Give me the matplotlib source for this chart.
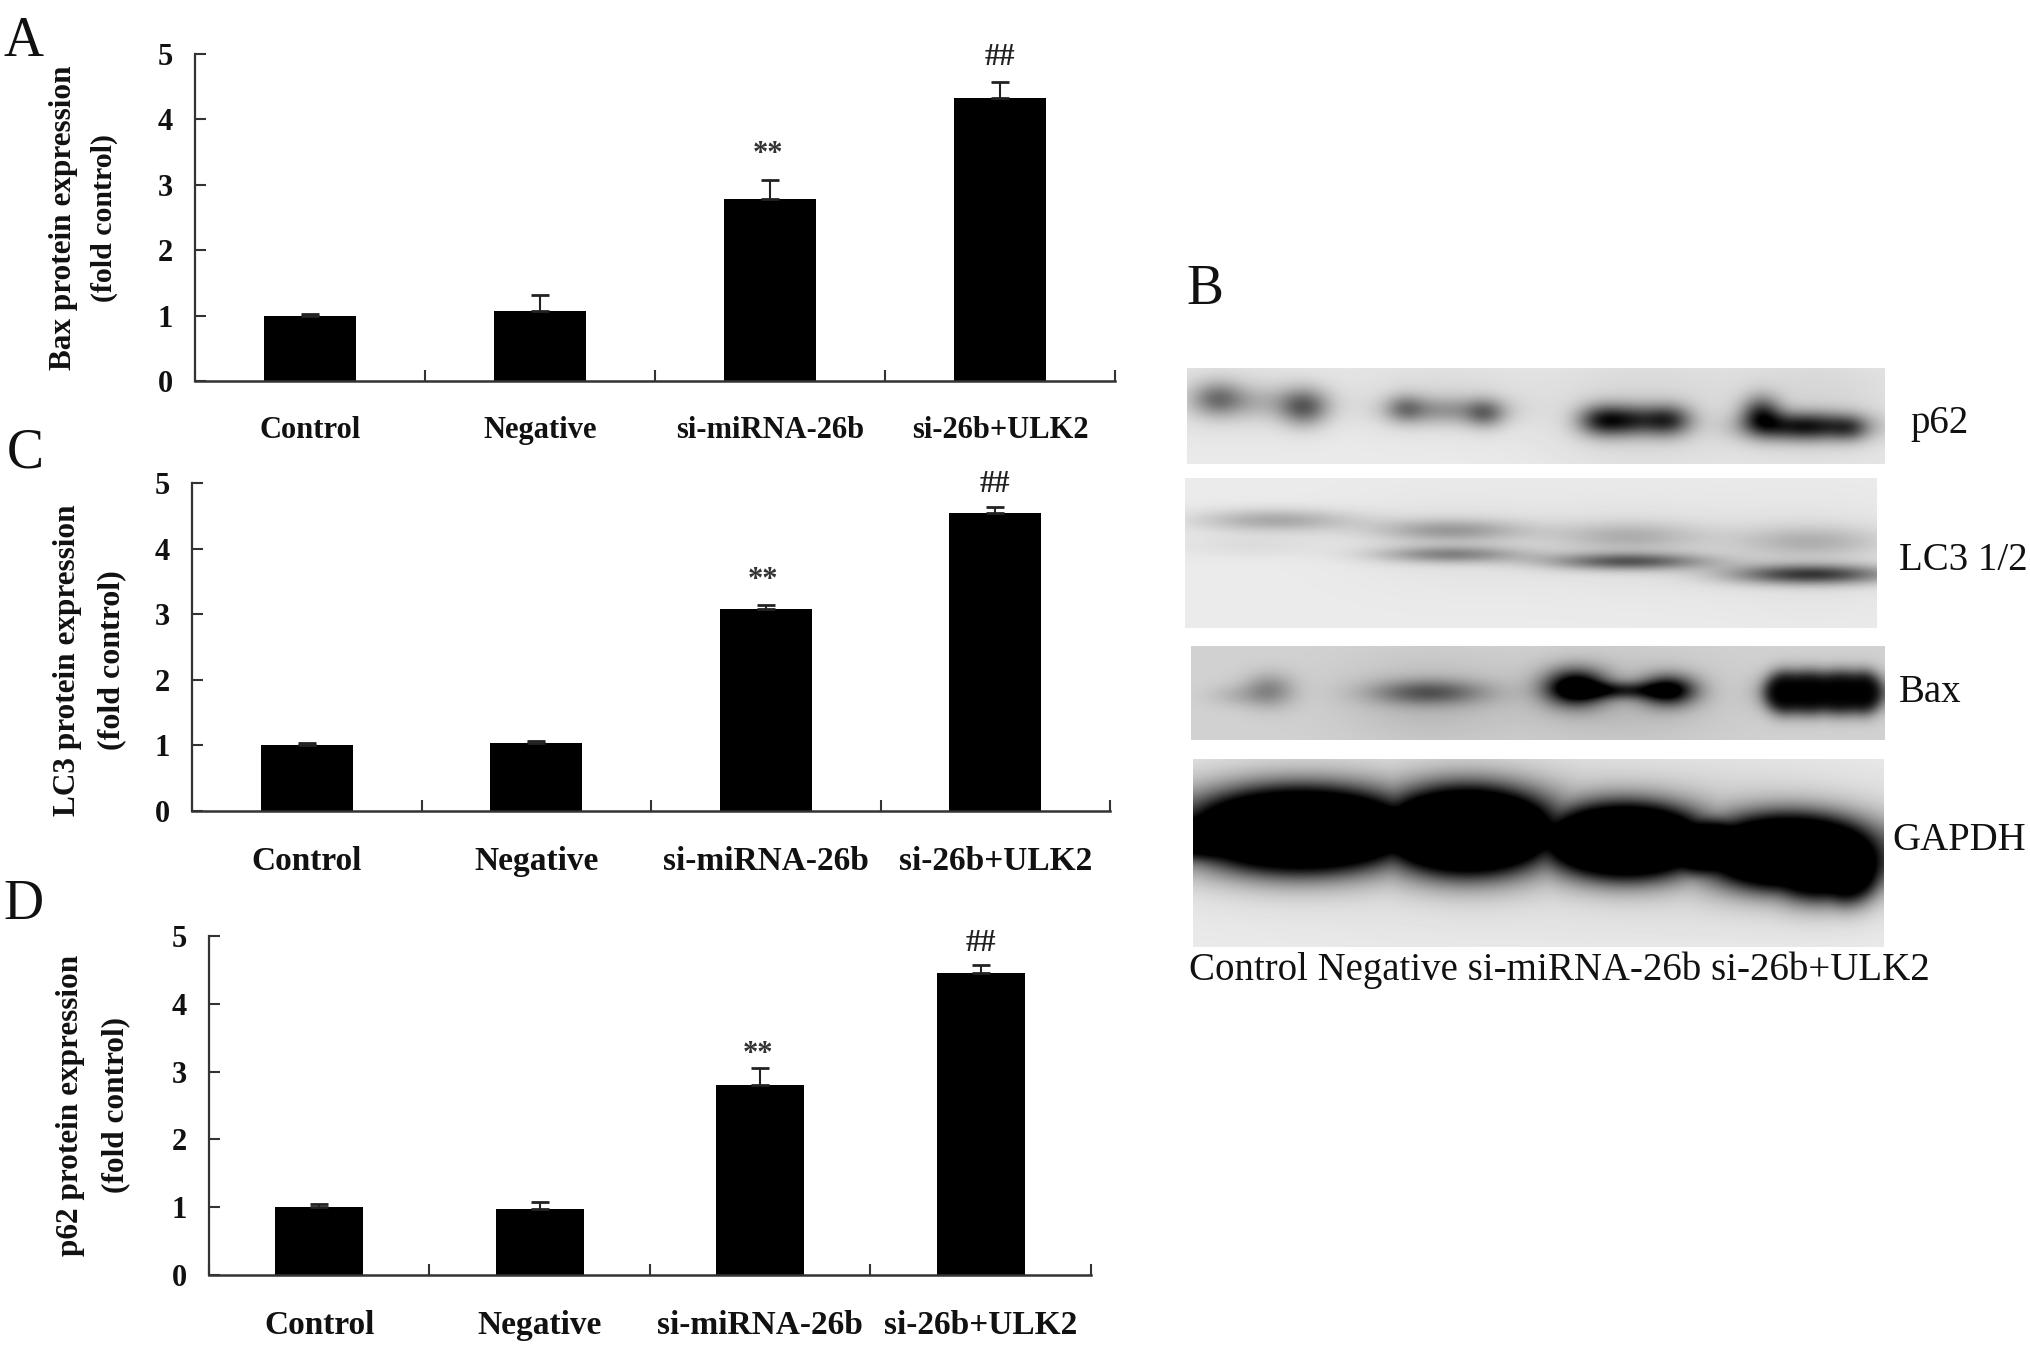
import numpy as np
from matplotlib import pyplot as plt

W, H = 2031, 1363

groups = ['Control', 'Negative', 'si-miRNA-26b', 'si-26b+ULK2']

bax_values = [1.00, 1.07, 2.78, 4.33]
bax_errors = [0.03, 0.24, 0.29, 0.24]
lc3_values = [1.00, 1.04, 3.08, 4.55]
lc3_errors = [0.03, 0.02, 0.06, 0.08]
p62_values = [1.00, 0.98, 2.80, 4.45]
p62_errors = [0.04, 0.09, 0.26, 0.12]

# western blot strips: left, right, top, bottom, background grey (pixels of the figure)
p62_strip = (1187, 1885, 368, 464, 0.92)
lc3_strip = (1185, 1877, 478, 628, 0.92)
bax_strip = (1191, 1885, 646, 740, 0.82)
gapdh_strip = (1193, 1884, 759, 947, 0.93)

# bands: x, y, sigma x, sigma y, darkness (3 = solid black blob)
p62_bands = [(1217, 398, 18, 12, .38), (1304, 407, 17, 13, .50), (1260, 402, 40, 12, .18),
             (1405, 408, 14, 10, .32), (1485, 413, 14, 10, .38), (1444, 410, 38, 10, .30),
             (1600, 420, 17, 11, .62), (1630, 420, 20, 11, .62), (1668, 420, 17, 11, .66),
             (1761, 414, 14, 13, .65), (1805, 426, 38, 10, .85), (1850, 428, 13, 9, .30),
             (1225, 395, 70, 28, .07), (1440, 395, 65, 28, .07), (1640, 410, 70, 45, .09),
             (1820, 405, 65, 45, .09)]
lc3_bands = [(1275, 520, 55, 8, .28), (1250, 545, 55, 8, .06),
             (1450, 530, 52, 8, .30), (1450, 554, 50, 6, .40),
             (1628, 536, 52, 10, .20), (1628, 561, 55, 6, .58),
             (1810, 541, 52, 11, .20), (1810, 574, 55, 7, .72),
             (1450, 540, 70, 30, .05), (1628, 545, 75, 30, .06), (1810, 555, 75, 35, .06)]
bax_bands = [(1269, 690, 18, 12, .35), (1235, 695, 20, 8, .12),
             (1428, 692, 40, 9, .50), (1428, 700, 60, 30, .12),
             (1575, 687, 22, 13, 1.2), (1668, 690, 20, 11, 1.0), (1620, 690, 30, 6, .60),
             (1620, 700, 70, 30, .12),
             (1786, 692, 12, 11, 3), (1808, 692, 22, 11, 3), (1840, 692, 22, 11, 3), (1862, 692, 11, 11, 3)]
gapdh_bands = [(1215, 837, 30, 13, 3), (1299, 830, 68, 25, 3), (1467, 831, 52, 26, 3),
               (1625, 841, 48, 22, 3), (1708, 847, 30, 15, 3), (1790, 852, 52, 22, 3),
               (1820, 860, 36, 22, 3), (1845, 866, 20, 20, 3),
               (1400, 815, 230, 40, .15), (1780, 850, 130, 45, .10), (1500, 850, 300, 70, .06)]


def frame(left, right, top, bottom):
    return fig.add_axes([left / W, 1 - bottom / H, (right - left) / W, (bottom - top) / H])


def bar_panel(box, values, errors, size, star_y, hash_y):
    ax = frame(*box)
    pos = np.arange(4) + 0.5
    ax.bar(pos, values, width=0.4, color='black')
    ax.errorbar(pos, values, yerr=[np.zeros(4), errors], fmt='none', ecolor='#222222',
                elinewidth=1.5, capsize=6.5, capthick=2)
    ax.text(pos[2] - 0.01, star_y, '**', ha='center', va='center', fontsize=22, color='#333333',
            fontfamily='Liberation Serif', fontweight='bold')
    ax.text(pos[3], hash_y, '##', ha='center', va='center', fontsize=22, color='#222222',
            fontfamily='Liberation Serif', fontweight='bold')
    ax.set_xlim(0, 4)
    ax.set_ylim(0, 5)
    ax.spines['top'].set_visible(False)
    ax.spines['right'].set_visible(False)
    ax.spines['left'].set_linewidth(1.6)
    ax.spines['bottom'].set_linewidth(1.8)
    ax.spines['left'].set_color('#333333')
    ax.spines['bottom'].set_color('#333333')
    ax.set_xticks(range(5))
    ax.set_xticklabels([])
    ax.set_xticks(pos, groups, minor=True)
    ax.set_yticks(range(6))
    ax.tick_params(axis='x', which='major', direction='in', length=8, width=1.5, color='#333333')
    ax.tick_params(axis='x', which='minor', length=0, pad=25, labelsize=size, labelcolor='#111111')
    ax.tick_params(axis='y', direction='in', length=8, width=1.5, color='#333333', pad=16,
                   labelsize=22, labelcolor='#111111')
    for label in ax.get_xticklabels(minor=True) + ax.get_yticklabels():
        label.set_fontfamily('Liberation Serif')
        label.set_fontweight('bold')
    return ax


def soften(a, sigma=5):
    # edge padding so the blur does not fade out at the strip border
    t = np.arange(-3 * sigma, 3 * sigma + 1)
    k = np.exp(-t ** 2 / (2 * sigma ** 2))
    k = k / k.sum()
    n = len(t) // 2
    a = np.pad(a, n, mode='edge')
    a = np.apply_along_axis(lambda r: np.convolve(r, k, mode='same'), 0, a)
    a = np.apply_along_axis(lambda r: np.convolve(r, k, mode='same'), 1, a)
    return a[n:-n, n:-n]


def blot(strip, bands):
    left, right, top, bottom, grey = strip
    xx, yy = np.meshgrid(np.arange(left, right), np.arange(top, bottom))
    solid = np.zeros(xx.shape)
    soft = np.zeros(xx.shape)
    for x, y, sx, sy, d in bands:
        g = d * np.exp(-(xx - x) ** 2 / (2 * sx ** 2) - (yy - y) ** 2 / (2 * sy ** 2))
        # solid blobs keep their own outline where they touch
        if d >= 3:
            solid = np.maximum(solid, g)
        else:
            soft += g
    img = grey * (1 - np.clip(soften(np.clip(solid, 0, 1)) + soft, 0, 1))
    page.imshow(img, cmap='gray', vmin=0, vmax=1, extent=(left, right, bottom, top),
                interpolation='bilinear', aspect='auto')


fig = plt.figure(figsize=(W / 100, H / 100), dpi=100)

page = fig.add_axes([0, 0, 1, 1])
page.axis('off')

blot(p62_strip, p62_bands)
blot(lc3_strip, lc3_bands)
blot(bax_strip, bax_bands)
blot(gapdh_strip, gapdh_bands)
page.set_xlim(0, W)
page.set_ylim(H, 0)

bar_panel((195, 1115, 54, 381), bax_values, bax_errors, 22, 3.47, 4.95)
bar_panel((192, 1110, 483, 811), lc3_values, lc3_errors, 24, 3.52, 4.98)
bar_panel((209, 1091, 936, 1275), p62_values, p62_errors, 24, 3.25, 4.89)

serif = 'Liberation Serif'
for letter, x, y in [('A', 4, 42), ('B', 1186, 290), ('C', 7, 453), ('D', 3, 905)]:
    page.text(x, y, letter, fontsize=40, family=serif, va='center', color='#111111')

ylabels = [('Bax protein expression', 64, 218, 22.5), ('(fold control)', 104, 218, 21.5),
           ('LC3 protein expression', 68, 660, 22.5), ('(fold control)', 112, 660, 23),
           ('p62 protein expression', 71, 1105, 22.5), ('(fold control)', 116, 1105, 22.5)]
for text, x, y, size in ylabels:
    page.text(x, y, text, rotation=90, fontsize=size, family=serif, fontweight='bold',
              ha='center', va='center', color='#111111')

blot_labels = [('p62', 1910, 424), ('LC3 1/2', 1899, 560), ('Bax', 1899, 693), ('GAPDH', 1892, 840)]
for text, x, y in blot_labels:
    page.text(x, y, text, fontsize=28, family=serif, va='center', color='#111111')
page.text(1189, 970, 'Control Negative si-miRNA-26b si-26b+ULK2', fontsize=28, family=serif,
          va='center', color='#111111')

fig.savefig('out.png', dpi=100)
